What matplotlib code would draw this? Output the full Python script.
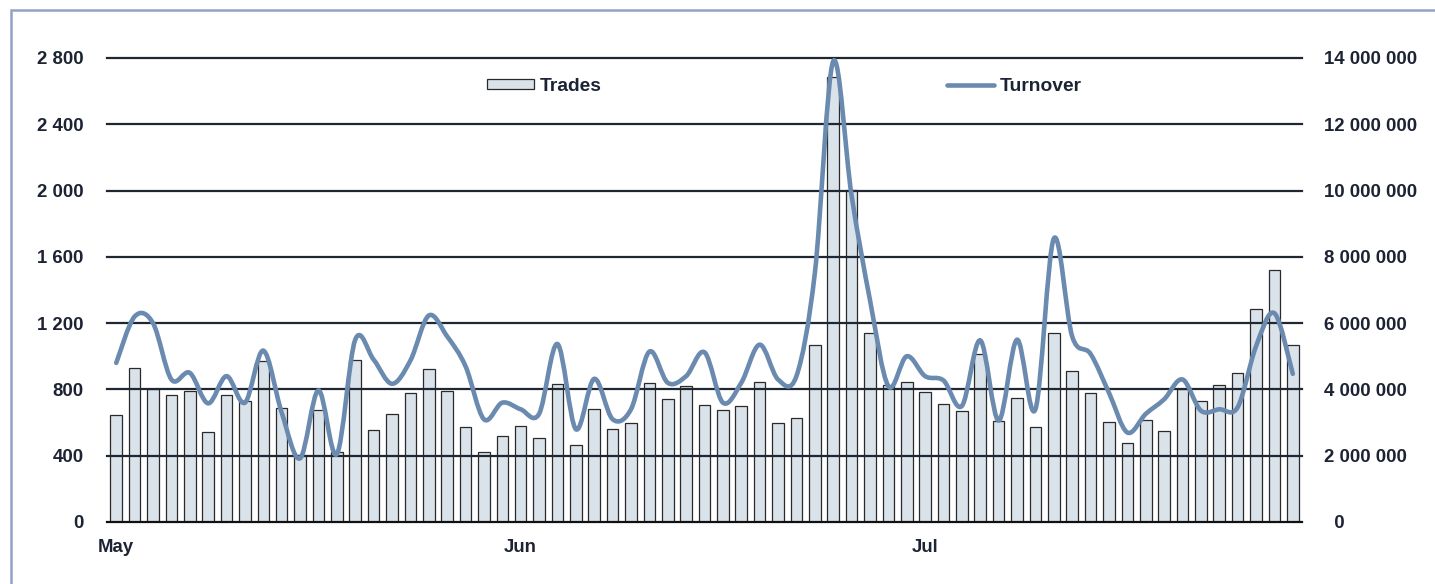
import matplotlib
matplotlib.use("Agg")
import matplotlib.pyplot as plt
import numpy as np
from matplotlib.path import Path
from matplotlib.patches import PathPatch, Rectangle, Patch
from matplotlib.lines import Line2D
from matplotlib.ticker import FuncFormatter

plt.rcParams['font.family'] = ['Liberation Sans', 'DejaVu Sans']
plt.rcParams['font.weight'] = 'bold'

# daily number of trades (left axis) and turnover (right axis), May - Jul
trades = [648, 932, 800, 769, 789, 541, 765, 729, 970, 688,
          405, 674, 421, 980, 558, 652, 781, 926, 793, 574,
          425, 519, 582, 509, 833, 465, 680, 560, 600, 841,
          745, 823, 707, 678, 697, 847, 600, 628, 1065, 2685,
          2001, 1139, 827, 847, 787, 709, 672, 1015, 612, 749,
          572, 1139, 914, 781, 606, 479, 616, 548, 803, 729,
          829, 902, 1288, 1518, 1071]

turnover = [4.80, 6.20, 6.00, 4.30, 4.50, 3.58, 4.40, 3.60, 5.17, 3.30,
            1.92, 3.97, 2.05, 5.50, 4.90, 4.17, 4.87, 6.23, 5.60, 4.70,
            3.10, 3.60, 3.40, 3.26, 5.37, 2.80, 4.32, 3.10, 3.40, 5.14,
            4.20, 4.40, 5.12, 3.60, 4.20, 5.35, 4.30, 4.40, 7.50, 13.90,
            9.85, 6.70, 4.10, 5.00, 4.40, 4.27, 3.50, 5.48, 3.06, 5.50,
            3.40, 8.55, 5.60, 5.07, 3.90, 2.70, 3.26, 3.70, 4.30, 3.36,
            3.40, 3.46, 5.30, 6.30, 4.47]
turnover = [v * 1e6 for v in turnover]

month_pos = [0, 22, 44]
month_labels = ['May', 'Jun', 'Jul']

left_ticks = [0, 400, 800, 1200, 1600, 2000, 2400, 2800]
right_ticks = [0, 2e6, 4e6, 6e6, 8e6, 10e6, 12e6, 14e6]

txt_col = '#1c2333'
bar_col = '#dae2ea'
line_col = '#6a8aaf'
grid_col = '#1f2733'


def smooth_path(xs, ys):
    # Excel-style smoothed line: cubic bezier through every point
    verts = [(xs[0], ys[0])]
    codes = [Path.MOVETO]
    n = len(xs)
    for i in range(n - 1):
        x0, y0 = (xs[i - 1], ys[i - 1]) if i > 0 else (xs[i], ys[i])
        x3, y3 = (xs[i + 2], ys[i + 2]) if i < n - 2 else (xs[i + 1], ys[i + 1])
        c1 = (xs[i] + (xs[i + 1] - x0) / 6, ys[i] + (ys[i + 1] - y0) / 6)
        c2 = (xs[i + 1] - (x3 - xs[i]) / 6, ys[i + 1] - (y3 - ys[i]) / 6)
        verts += [c1, c2, (xs[i + 1], ys[i + 1])]
        codes += [Path.CURVE4] * 3
    return Path(verts, codes)


fig = plt.figure(figsize=(14.35, 5.84), dpi=100)
ax = fig.add_axes([0.0746, 0.1062, 0.8327, 0.7945])
ax2 = ax.twinx()

x = np.arange(len(trades))
bars = ax.bar(x, trades, width=0.63, color=bar_col, edgecolor='#2a2a2a',
              linewidth=0.9, zorder=2)

for t in left_ticks[1:]:
    ax.axhline(t, color=grid_col, lw=1.6, zorder=3, clip_on=False)

ax.set_xlim(-0.5, len(trades) - 0.5)
ax.set_ylim(0, 2800)
ax2.set_ylim(0, 14e6)

ax.set_yticks(left_ticks)
ax.yaxis.set_major_formatter(FuncFormatter(lambda v, p: f'{int(v):,}'.replace(',', ' ')))
ax2.set_yticks(right_ticks)
ax2.yaxis.set_major_formatter(FuncFormatter(
    lambda v, p: '  0' if v == 0 else f'{int(v):,}'.replace(',', ' ')))

ax.set_xticks(month_pos)
ax.set_xticklabels(month_labels)

ax.tick_params(axis='y', length=0, pad=17, labelsize=13.4, colors=txt_col)
ax2.tick_params(axis='y', length=0, pad=16, labelsize=13.4, colors=txt_col)
ax.tick_params(axis='x', length=0, pad=12, labelsize=13.4, colors=txt_col)

for a in (ax, ax2):
    for s in ('top', 'left', 'right', 'bottom'):
        a.spines[s].set_visible(False)
ax.axhline(0, color='#111111', lw=1.6, zorder=4, clip_on=False)

line = PathPatch(smooth_path(x, turnover), fill=False, edgecolor=line_col,
                 lw=3.3, capstyle='round', joinstyle='round', zorder=5,
                 clip_on=False)
ax2.add_patch(line)

handles = [Patch(facecolor=bar_col, edgecolor='#2a2a2a', linewidth=0.9),
           Line2D([], [], color=line_col, lw=3.3, solid_capstyle='round')]
fig.legend(handles, ['Trades', 'Turnover'], ncol=2, frameon=False,
           loc='center left', bbox_to_anchor=(0.3324, 0.8527),
           borderpad=0, handlelength=2.46, handleheight=0.42,
           handletextpad=0.28, columnspacing=17.9,
           prop={'size': 13.9, 'weight': 'bold'}, labelcolor=txt_col)

# light frame around the chart
fig.patches.append(Rectangle((11 / 1435, -0.1), 1.2, 1.1 - 10 / 584,
                             transform=fig.transFigure, fill=False,
                             edgecolor='#8fa3c7', lw=1.8))

fig.savefig('out.png', dpi=100)
